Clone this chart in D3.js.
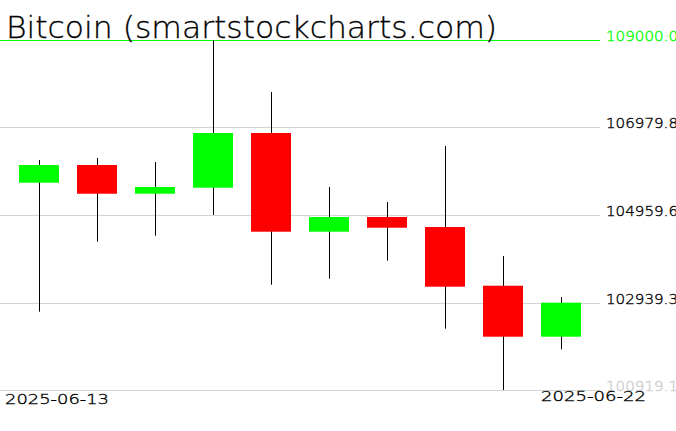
<!DOCTYPE html>
<html><head><meta charset="utf-8">
<script src="https://cdn.jsdelivr.net/npm/d3@7"></script>
<style>html,body{margin:0;padding:0;background:#fff;overflow:hidden}</style>
</head><body>
<script>
const dates = ["2025-06-13","2025-06-14","2025-06-15","2025-06-16","2025-06-17","2025-06-18","2025-06-19","2025-06-20","2025-06-21","2025-06-22"];
const opens  = [105705,106114,105451,105590,106853,104574,104913,104682,103327,102150];
const highs  = [106229,106276,106183,109000,107799,105606,105260,106553,104013,103066];
const lows   = [102727,104343,104482,104960,103350,103489,103904,102334,100919.1,101859];
const closes = [106114,105451,105606,106853,104574,104913,104666,103304,102150,102935];
const tickValues = [100919.1,102939.3,104959.6,106979.8,109000.0];
const tickLabels = ["100919.1","102939.3","104959.6","106979.8","109000.0"];
const dateLabels = ["2025-06-13","2025-06-22"];
const title = "Bitcoin (smartstockcharts.com)";

const W = 676, H = 431;
const svg = d3.select("body").append("svg").attr("width", W).attr("height", H);
const font = "'DejaVu Sans', sans-serif";

const x = d3.scaleBand().domain(dates).range([10, 590]).paddingInner(18/58).paddingOuter(9/58);
const y = d3.scaleLinear().domain([100919.1, 109000]).range([390, 40]);

// gridlines
svg.append("g").selectAll("line").data(tickValues).join("line")
  .attr("x1", 0).attr("x2", 600)
  .attr("y1", d => Math.round(y(d)) + 0.5).attr("y2", d => Math.round(y(d)) + 0.5)
  .attr("stroke", (d, i) => i === tickValues.length - 1 ? "#00ff00" : "#d3d3d3")
  .attr("stroke-width", 1);

const labelColor = (i) => i === tickValues.length - 1 ? "#00ff00" : (i === 0 ? "#cccccc" : "#000");
// y labels
svg.append("g").selectAll("text").data(tickValues).join("text")
  .attr("x", 606).attr("y", d => Math.round(y(d)) + 1)
  .attr("font-family", font).attr("font-size", 14).attr("font-weight", 200)
  .attr("textLength", 72).attr("lengthAdjust", "spacingAndGlyphs")
  .attr("fill", (d, i) => labelColor(i))
  .attr("stroke", (d, i) => labelColor(i)).attr("stroke-width", 0.35)
  .text((d, i) => tickLabels[i]);

const data = dates.map((d, i) => ({d, o: opens[i], h: highs[i], l: lows[i], c: closes[i]}));
const g = svg.append("g");
// wicks
g.selectAll("line.w").data(data).join("line").attr("class", "w")
  .attr("x1", d => Math.floor(x(d.d) + x.bandwidth() / 2) + 0.5)
  .attr("x2", d => Math.floor(x(d.d) + x.bandwidth() / 2) + 0.5)
  .attr("y1", d => y(d.h)).attr("y2", d => y(d.l))
  .attr("stroke", "#000").attr("stroke-width", 1);
// bodies
g.selectAll("rect").data(data).join("rect")
  .attr("x", d => x(d.d)).attr("width", x.bandwidth())
  .attr("y", d => y(Math.max(d.o, d.c)))
  .attr("height", d => Math.max(1, Math.abs(y(d.o) - y(d.c))))
  .attr("fill", d => d.c >= d.o ? "#00ff00" : "#ff0000");

// title
svg.append("text").attr("x", 6).attr("y", 38)
  .attr("font-family", font).attr("font-size", 30).attr("font-weight", 200)
  .attr("textLength", 491).attr("lengthAdjust", "spacingAndGlyphs")
  .attr("fill", "#000").attr("stroke", "#000").attr("stroke-width", 0.3).text(title);

// date labels
svg.append("text").attr("x", 5).attr("y", 404)
  .attr("font-family", font).attr("font-size", 14).attr("font-weight", 200)
  .attr("textLength", 104).attr("lengthAdjust", "spacingAndGlyphs")
  .attr("fill", "#000").attr("stroke", "#000").attr("stroke-width", 0.35).text(dateLabels[0]);
svg.append("text").attr("x", 541).attr("y", 401)
  .attr("font-family", font).attr("font-size", 14).attr("font-weight", 200)
  .attr("textLength", 105).attr("lengthAdjust", "spacingAndGlyphs")
  .attr("fill", "#000").attr("stroke", "#000").attr("stroke-width", 0.35).text(dateLabels[1]);
</script>
</body></html>
